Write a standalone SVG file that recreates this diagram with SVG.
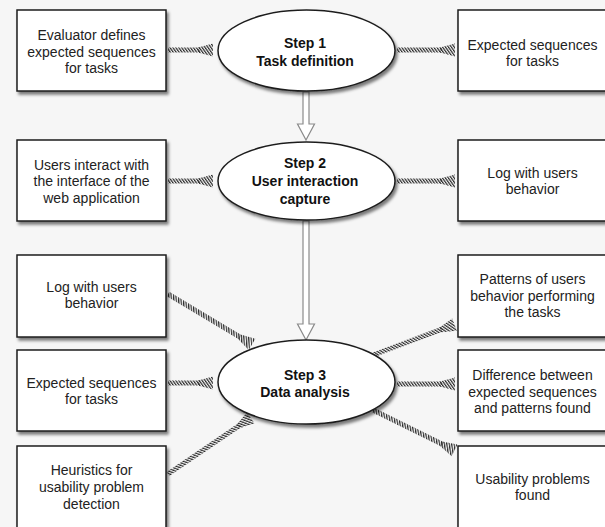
<svg xmlns="http://www.w3.org/2000/svg" width="605" height="527" viewBox="0 0 605 527">
<defs>
<filter id="sh" x="-10%" y="-10%" width="125%" height="130%">
<feDropShadow dx="2" dy="3" stdDeviation="1.8" flood-color="#000" flood-opacity="0.5"/>
</filter>
<pattern id="hatch" patternUnits="userSpaceOnUse" width="2.4" height="12" patternTransform="rotate(-35)">
<rect x="0" y="0" width="1.2" height="12" fill="#2a2a2a"/>
</pattern>
<style>
.box{fill:#fff;stroke:#1e1e1e;stroke-width:1.5;filter:url(#sh)}
.ell{fill:#fff;stroke:#1e1e1e;stroke-width:1.5;filter:url(#sh)}
.t{font-family:"Liberation Sans",Arial,sans-serif;font-size:14px;fill:#222;text-anchor:middle}
.b{font-family:"Liberation Sans",Arial,sans-serif;font-size:14px;font-weight:bold;fill:#111;text-anchor:middle}
.hs{fill:url(#hatch)}
.va{fill:#fff;stroke:#8a8a8a;stroke-width:1.2}
</style>
</defs>
<rect width="605" height="527" fill="#f6f6f6"/>

<g id="connectors">
<g transform="translate(168,50)"><rect class="hs" x="0" y="-2.5" width="32" height="5"/><polygon class="hs" points="30,-2.5 45,-6.5 45,6.5 30,2.5"/></g>
<g transform="translate(397,50)"><rect class="hs" x="0" y="-2.5" width="45" height="5"/><polygon class="hs" points="43,-2.5 58,-6.5 58,6.5 43,2.5"/></g>
<g transform="translate(168,181)"><rect class="hs" x="0" y="-2.5" width="32" height="5"/><polygon class="hs" points="30,-2.5 45,-6.5 45,6.5 30,2.5"/></g>
<g transform="translate(397,181)"><rect class="hs" x="0" y="-2.5" width="45" height="5"/><polygon class="hs" points="43,-2.5 58,-6.5 58,6.5 43,2.5"/></g>
<g transform="translate(168,294) rotate(30.96)"><rect class="hs" x="0" y="-2.5" width="85" height="5"/><polygon class="hs" points="83,-2.5 98,-6.5 98,6.5 83,2.5"/></g>
<g transform="translate(168,383)"><rect class="hs" x="0" y="-2.5" width="32" height="5"/><polygon class="hs" points="30,-2.5 45,-6.5 45,6.5 30,2.5"/></g>
<g transform="translate(168,474) rotate(-34.16)"><rect class="hs" x="0" y="-2.5" width="87" height="5"/><polygon class="hs" points="85,-2.5 100,-6.5 100,6.5 85,2.5"/></g>
<g transform="translate(373,355) rotate(-20.48)"><rect class="hs" x="0" y="-2.5" width="74" height="5"/><polygon class="hs" points="72,-2.5 87,-6.5 87,6.5 72,2.5"/></g>
<g transform="translate(397,384)"><rect class="hs" x="0" y="-2.5" width="45" height="5"/><polygon class="hs" points="43,-2.5 58,-6.5 58,6.5 43,2.5"/></g>
<g transform="translate(373,410) rotate(26.29)"><rect class="hs" x="0" y="-2.5" width="78" height="5"/><polygon class="hs" points="76,-2.5 91,-6.5 91,6.5 76,2.5"/></g>
<polygon class="va" points="303,92 309,92 309,124 314.5,124 306,140 297.5,124 303,124"/>
<polygon class="va" points="303,221 309,221 309,324 314.5,324 306,340 297.5,324 303,324"/>
</g>

<g id="step1"><ellipse class="ell" cx="306.5" cy="50.5" rx="88.5" ry="40.5"/><text class="b" x="305" y="48">Step 1</text><text class="b" x="305" y="66">Task definition</text></g>
<g id="step2"><ellipse class="ell" cx="306.5" cy="181" rx="88.5" ry="39"/><text class="b" x="305" y="168">Step 2</text><text class="b" x="305" y="186">User interaction</text><text class="b" x="305" y="204">capture</text></g>
<g id="step3"><ellipse class="ell" cx="306.5" cy="382" rx="88.5" ry="42"/><text class="b" x="305" y="380">Step 3</text><text class="b" x="305" y="397">Data analysis</text></g>

<g id="evaluator"><rect class="box" x="17" y="10" width="149" height="81"/><text class="t" x="91.5" y="40">Evaluator defines</text><text class="t" x="91.5" y="57">expected sequences</text><text class="t" x="91.5" y="73">for tasks</text></g>
<g id="expected1"><rect class="box" x="458" y="10" width="150" height="81"/><text class="t" x="532.5" y="50">Expected sequences</text><text class="t" x="532.5" y="66">for tasks</text></g>
<g id="users"><rect class="box" x="17" y="140" width="149" height="81"/><text class="t" x="91.5" y="170">Users interact with</text><text class="t" x="91.5" y="186">the interface of the</text><text class="t" x="91.5" y="203">web application</text></g>
<g id="log1"><rect class="box" x="458" y="140" width="150" height="81"/><text class="t" x="532.5" y="178">Log with users</text><text class="t" x="532.5" y="194">behavior</text></g>
<g id="log2"><rect class="box" x="17" y="255" width="149" height="82"/><text class="t" x="91.5" y="292">Log with users</text><text class="t" x="91.5" y="308">behavior</text></g>
<g id="expected2"><rect class="box" x="17" y="350" width="149" height="81"/><text class="t" x="91.5" y="388">Expected sequences</text><text class="t" x="91.5" y="404">for tasks</text></g>
<g id="heuristics"><rect class="box" x="17" y="446" width="149" height="85"/><text class="t" x="91.5" y="475">Heuristics for</text><text class="t" x="91.5" y="492">usability problem</text><text class="t" x="91.5" y="509">detection</text></g>
<g id="patterns"><rect class="box" x="458" y="255" width="150" height="82"/><text class="t" x="532.5" y="284">Patterns of users</text><text class="t" x="532.5" y="301">behavior performing</text><text class="t" x="532.5" y="317">the tasks</text></g>
<g id="difference"><rect class="box" x="458" y="350" width="150" height="81"/><text class="t" x="532.5" y="380">Difference between</text><text class="t" x="532.5" y="397">expected sequences</text><text class="t" x="532.5" y="413">and patterns found</text></g>
<g id="usability"><rect class="box" x="458" y="446" width="150" height="85"/><text class="t" x="532.5" y="484">Usability problems</text><text class="t" x="532.5" y="500">found</text></g>
</svg>
